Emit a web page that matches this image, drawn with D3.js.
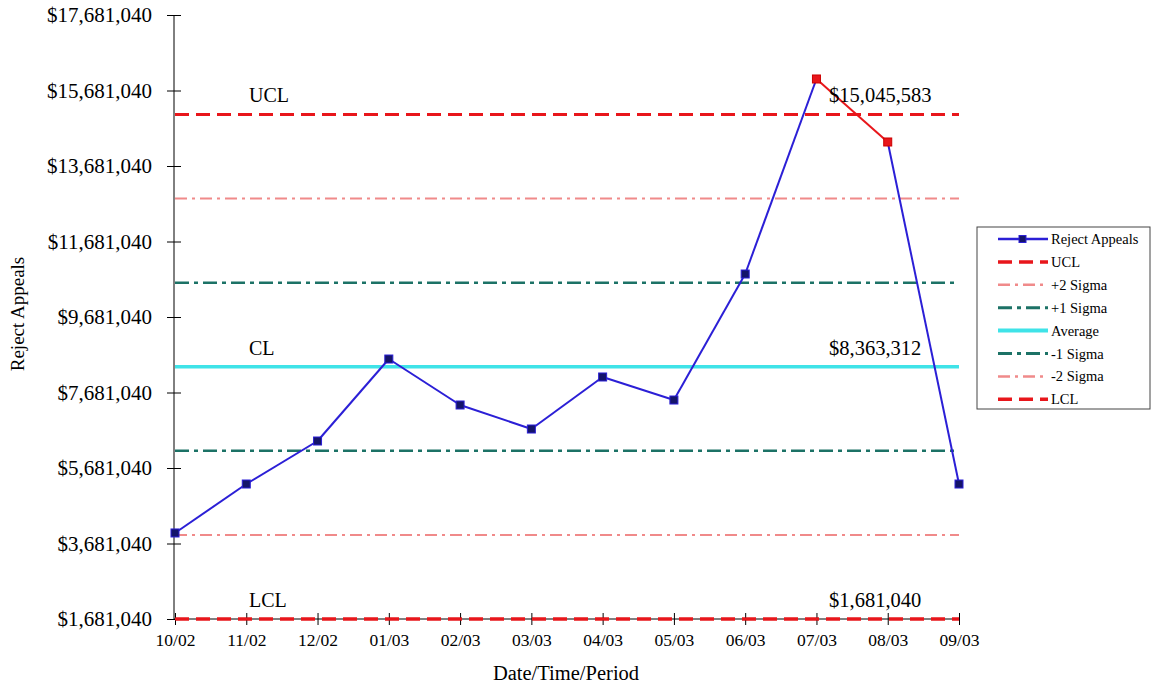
<!DOCTYPE html>
<html><head><meta charset="utf-8">
<script src="https://cdn.jsdelivr.net/npm/d3@7"></script>
<style>body{margin:0;background:#fff}svg{display:block}</style>
</head><body>
<svg id="c" width="1152" height="685"></svg>
<script>
const categories = ["10/02","11/02","12/02","01/03","02/03","03/03","04/03","05/03","06/03","07/03","08/03","09/03"];
const rejectAppeals = [3960000,5257000,6396000,8568000,7350000,6714000,8092000,7482000,10820000,15986000,14317000,5257000];
const flagged = [false,false,false,false,false,false,false,false,false,true,true,false];
const yTicks = [1681040,3681040,5681040,7681040,9681040,11681040,13681040,15681040,17681040];
const ucl = 15045583, cl = 8363312, lcl = 1681040;
const sigma = (ucl - cl) / 3;
const controlNames = ["UCL","+2 Sigma","+1 Sigma","Average","-1 Sigma","-2 Sigma","LCL"];
const controlValues = [ucl, cl + 2*sigma, cl + sigma, cl, cl - sigma, cl - 2*sigma, lcl];

const styles = {
  "UCL": {color:"#e8161b", w:3, dash:"14,7"},
  "+2 Sigma": {color:"#f08a8a", w:2, dash:"12,5,3,5"},
  "+1 Sigma": {color:"#1c7266", w:2.5, dash:"14,5,4,5"},
  "Average": {color:"#3fe3e8", w:3.5, dash:null},
  "-1 Sigma": {color:"#1c7266", w:2.5, dash:"14,5,4,5"},
  "-2 Sigma": {color:"#f08a8a", w:2, dash:"12,5,3,5"},
  "LCL": {color:"#e8161b", w:3, dash:"14,7"}
};

const svg = d3.select("#c");
const font = "'Liberation Serif','Times New Roman',serif";
const x = d3.scalePoint().domain(categories).range([175, 959]);
const y = d3.scaleLinear().domain([1681040, 17681040]).range([619, 15]);
const fmt = v => "$" + d3.format(",")(Math.round(v));

// control lines
controlNames.forEach((n,i) => {
  const s = styles[n];
  svg.append("line").attr("x1",175).attr("x2",959)
    .attr("y1",y(controlValues[i])).attr("y2",y(controlValues[i]))
    .attr("stroke",s.color).attr("stroke-width",s.w)
    .attr("stroke-dasharray",s.dash);
});

// axes
const yAxis = d3.axisLeft(y).tickValues(yTicks).tickFormat(fmt).tickSize(7).tickPadding(15);
const gy = svg.append("g").attr("transform","translate(174,0)").call(yAxis);
gy.selectAll(".tick line").attr("x2",-7).attr("x1",7);
gy.select(".domain").attr("d","M0,15V619");
gy.selectAll("text").attr("font-family",font).attr("font-size",21).attr("fill","#000");

const xAxis = d3.axisBottom(x).tickSize(6).tickPadding(9);
const gx = svg.append("g").attr("transform","translate(0,619)").call(xAxis);
gx.selectAll(".tick line").attr("y1",-6).attr("y2",6);
gx.select(".domain").attr("d","M174,0H960");
gx.selectAll("text").attr("font-family",font).attr("font-size",17.5).attr("fill","#000");
// redraw LCL over axis
svg.append("line").attr("x1",175).attr("x2",959).attr("y1",y(lcl)).attr("y2",y(lcl))
  .attr("stroke",styles.LCL.color).attr("stroke-width",3).attr("stroke-dasharray","14,7");

// data line
const pts = categories.map((c,i)=>({c, v:rejectAppeals[i], f:flagged[i]}));
for (let i=0;i<pts.length-1;i++){
  const red = pts[i].f && pts[i+1].f;
  svg.append("line").attr("x1",x(pts[i].c)).attr("y1",y(pts[i].v))
    .attr("x2",x(pts[i+1].c)).attr("y2",y(pts[i+1].v))
    .attr("stroke", red ? "#e8161b" : "#2b1fd6").attr("stroke-width",2);
}
svg.selectAll("rect.m").data(pts).enter().append("rect")
  .attr("x",d=>x(d.c)-4).attr("y",d=>y(d.v)-4).attr("width",8).attr("height",8)
  .attr("fill",d=>d.f?"#e8161b":"#14146a").attr("stroke",d=>d.f?"#c00":"#2b1fd6").attr("stroke-width",1);

// annotations
const ann = [["UCL",ucl],["CL",cl],["LCL",lcl]];
ann.forEach(([t,v])=>{
  svg.append("text").attr("x",249).attr("y",y(v)-12).text(t)
    .attr("font-family",font).attr("font-size",20).attr("fill","#000");
  svg.append("text").attr("x",829).attr("y",y(v)-12).text(fmt(v))
    .attr("font-family",font).attr("font-size",20.5).attr("fill","#000");
});

// axis titles
svg.append("text").attr("x",566).attr("y",680).attr("text-anchor","middle")
  .attr("font-family",font).attr("font-size",20.5).text("Date/Time/Period");
svg.append("text").attr("transform","translate(24,314) rotate(-90)").attr("text-anchor","middle")
  .attr("font-family",font).attr("font-size",19).text("Reject Appeals");

// legend
const lg = svg.append("g").attr("transform","translate(977,227)");
lg.append("rect").attr("width",173).attr("height",182).attr("fill","#fff").attr("stroke","#444").attr("stroke-width",1);
const legendNames = ["Reject Appeals"].concat(controlNames);
legendNames.forEach((n,i)=>{
  const yy = 12 + i*22.9;
  if (i===0){
    lg.append("line").attr("x1",21).attr("x2",71).attr("y1",yy).attr("y2",yy).attr("stroke","#2b1fd6").attr("stroke-width",2.5);
    lg.append("rect").attr("x",42).attr("y",yy-3.5).attr("width",7).attr("height",7).attr("fill","#14146a").attr("stroke","#2b1fd6");
  } else {
    const s = styles[n];
    lg.append("line").attr("x1",21).attr("x2",71).attr("y1",yy).attr("y2",yy)
      .attr("stroke",s.color).attr("stroke-width",s.w+0.5).attr("stroke-dasharray",s.dash);
  }
  lg.append("text").attr("x",74).attr("y",yy+5).text(n)
    .attr("font-family",font).attr("font-size",14.5).attr("fill","#000");
});
</script>
</body></html>
